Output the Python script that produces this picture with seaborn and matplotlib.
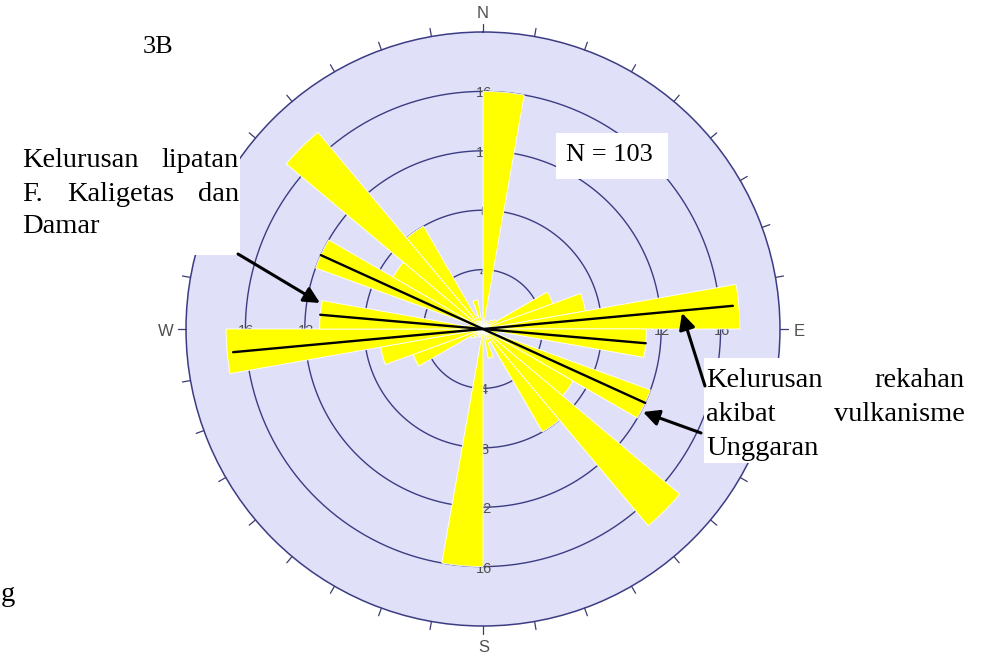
import numpy as np
import pandas as pd
import matplotlib
matplotlib.use("Agg")
import matplotlib.pyplot as plt
import matplotlib.transforms as mtransforms
from matplotlib.patches import Rectangle
import seaborn as sns

# rose diagram bins (bearing of bin start, degrees clockwise from N)
bin_start = list(range(0, 360, 10))
bin_len = [16, 0, 0.6, 0, 0.8, 1.0, 5, 7, 17.3, 11, 1, 12, 7, 17.3, 8, 1, 2, 0,
           16, 0, 0.6, 0, 0.8, 1.0, 5, 7, 17.3, 11, 1, 12, 7, 17.3, 8, 1, 2, 0]

# mean trend lines through the centre
trend_bearing = [84.7, 95.0, 114.5]
trend_len = [16.9, 11.0, 12.0]

ring_vals = [4, 8, 12, 16]
ring_labels = ["4", "8", "12", "16"]
r_max = 20

df = pd.DataFrame({"start": bin_start, "len": bin_len})
df["theta"] = np.radians(df["start"])

sns.set_theme(style="white")
plt.rcParams["font.family"] = ["Liberation Sans", "DejaVu Sans"]

W, H = 989, 659
fig = plt.figure(figsize=(W / 100, H / 100), dpi=100)
fig.patch.set_facecolor("white")

cx, cy, rad = 483, 329, 297
ax = fig.add_axes([(cx - rad) / W, (H - cy - rad) / H, 2 * rad / W, 2 * rad / H],
                  projection="polar")
ax.set_theta_zero_location("N")
ax.set_theta_direction(-1)
ax.set_ylim(0, r_max)
ax.set_xticks([])
ax.set_yticks([])
ax.grid(False)
ax.set_facecolor("#e0e0f8")
ax.spines["polar"].set_color("#3c3c84")
ax.spines["polar"].set_linewidth(1.1)

ring_col = "#3c3c84"
tt = np.linspace(0, 2 * np.pi, 721)
for r in ring_vals:
    ax.plot(tt, np.full_like(tt, r), color=ring_col, lw=1.0, zorder=1)

# outer ticks every 10 degrees, pointing outward
for b in range(0, 360, 10):
    ax.plot([np.radians(b)] * 2, [r_max, r_max + 0.55], color="#3c3c70", lw=0.9,
            clip_on=False, zorder=1)

# ring scale labels on the four axes (under the petals)
off = mtransforms.offset_copy(ax.transData, fig=fig, x=1, y=-2, units="dots")
for r, lab in zip(ring_vals, ring_labels):
    for ang in [0, 90, 180, 270]:
        ax.text(np.radians(ang), r, lab, transform=off, ha="center", va="center",
                fontsize=10.5, color="#505050", zorder=1.5)

ax.bar(df["theta"], df["len"], width=np.radians(10), bottom=0, align="edge",
       color="#ffff00", edgecolor="white", linewidth=0.6, zorder=2)

for b, L in zip(trend_bearing, trend_len):
    t = np.radians(b)
    ax.plot([t, t, t + np.pi], [L, 0, L], color="black", lw=1.7, zorder=3)

# compass letters
tf = fig.transFigure
def px(x, y):
    return (x / W, 1 - y / H)

for lab, (x, y) in {"N": (483, 14), "S": (484, 648), "W": (166, 331), "E": (799, 331)}.items():
    ax.text(*px(x, y), lab, transform=tf, ha="center", va="center", fontsize=12,
            color="#505050", clip_on=False, zorder=4)

# white boxes of the annotations
def box(x0, y0, x1, y1):
    ax.add_patch(Rectangle(px(x0, y1), (x1 - x0) / W, (y1 - y0) / H, transform=tf,
                           facecolor="white", edgecolor="none", clip_on=False, zorder=5))

box(0, 120, 240, 255)
box(556, 133, 668, 179)
box(704, 358, 989, 463)

serif = ["Liberation Serif", "DejaVu Serif"]
def word(x, y, s, ha="left", size=20.5):
    ax.text(*px(x, y), s, transform=tf, ha=ha, va="baseline", fontsize=size,
            family=serif, color="black", clip_on=False, zorder=6)

word(143, 53, "3B", size=19)
word(566, 161, "N = 103", size=19)
word(22, 167, "Kelurusan")
word(239, 167, "lipatan", ha="right")
word(22, 201, "F.")
word(67, 201, "Kaligetas")
word(239, 201, "dan", ha="right")
word(22, 233, "Damar")
word(706, 387, "Kelurusan")
word(965, 387, "rekahan", ha="right")
word(706, 421, "akibat")
word(965, 421, "vulkanisme", ha="right")
word(706, 455, "Unggaran")
word(1, 601, "g")

arrows = [((238, 254), (320, 303)), ((705, 386), (682, 313)), ((701, 433), (643, 412))]
for (x0, y0), (x1, y1) in arrows:
    ax.annotate("", xy=px(x1, y1), xycoords=tf, xytext=px(x0, y0), textcoords=tf,
                arrowprops=dict(arrowstyle="-|>", color="black", lw=2.2,
                                mutation_scale=24, shrinkA=0, shrinkB=0),
                annotation_clip=False, zorder=7)

fig.savefig("out.png", dpi=100)
